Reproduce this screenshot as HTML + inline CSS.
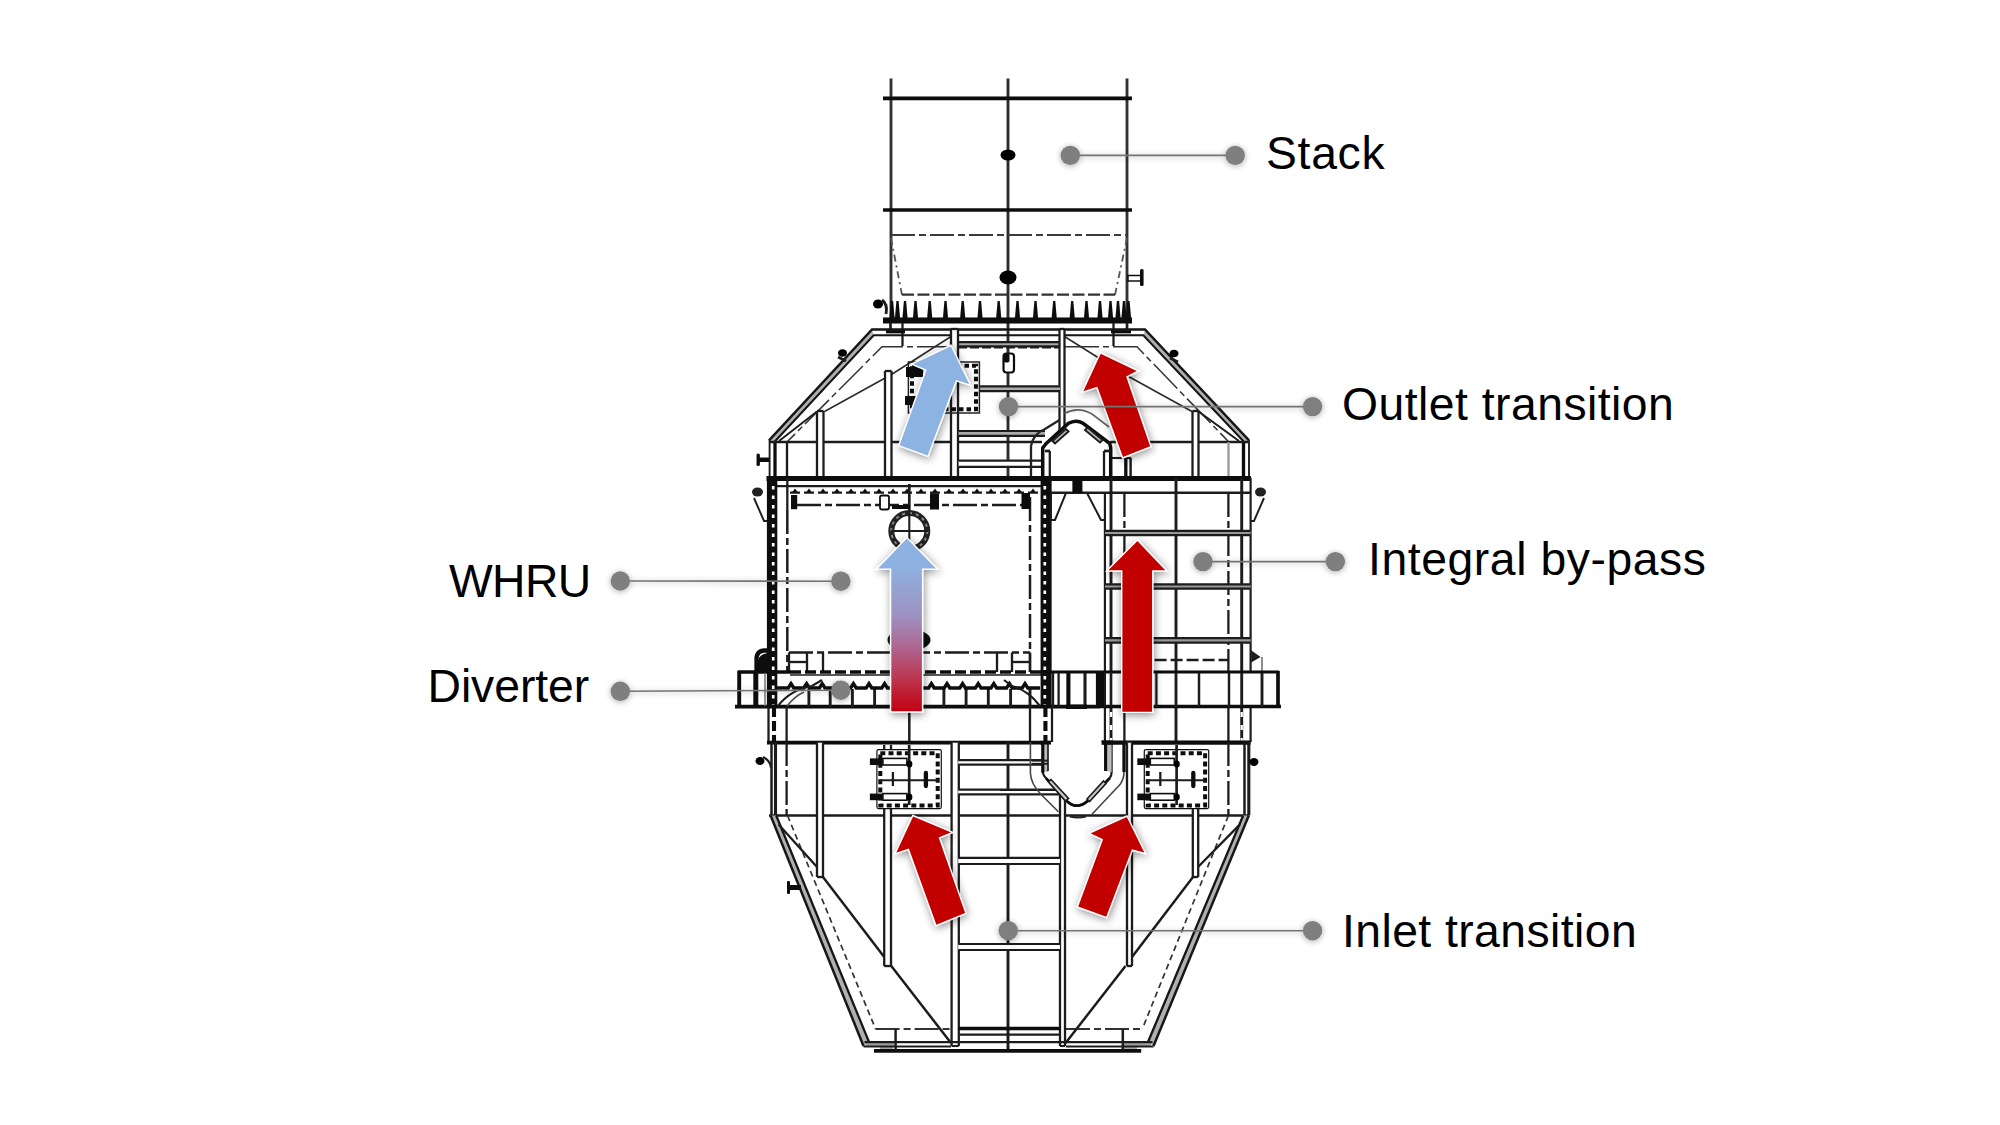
<!DOCTYPE html>
<html lang="en"><head><meta charset="utf-8"><title>WHRU with integral by-pass</title>
<style>
html,body{margin:0;padding:0;background:#fff;}
body{width:2000px;height:1125px;overflow:hidden;position:relative;font-family:"Liberation Sans",Arial,Helvetica,sans-serif;}
svg{position:absolute;left:0;top:0;display:block}
.lbl{position:absolute;font-size:46.3px;line-height:46.3px;color:#000;white-space:nowrap;letter-spacing:0px}
</style></head><body>
<svg width="2000" height="1125" viewBox="0 0 2000 1125">
<defs>
<filter id="soft" x="-2%" y="-2%" width="104%" height="104%"><feGaussianBlur stdDeviation="0.6"/></filter>
<filter id="shadow" x="-30%" y="-30%" width="160%" height="160%">
<feGaussianBlur in="SourceAlpha" stdDeviation="4"/><feOffset dx="1" dy="2.2" result="b"/>
<feComponentTransfer><feFuncA type="linear" slope="0.45"/></feComponentTransfer>
<feMerge><feMergeNode/><feMergeNode in="SourceGraphic"/></feMerge></filter>
<filter id="dshadow" x="-5%" y="-5%" width="110%" height="110%">
<feGaussianBlur in="SourceAlpha" stdDeviation="3"/><feOffset dx="0.3" dy="0.8"/>
<feComponentTransfer><feFuncA type="linear" slope="0.33"/></feComponentTransfer>
<feMerge><feMergeNode/><feMergeNode in="SourceGraphic"/></feMerge></filter>
<linearGradient id="gradBR" x1="0" y1="0" x2="0" y2="1">
<stop offset="0" stop-color="#8DB3E2"/><stop offset="0.16" stop-color="#8DB1E0"/><stop offset="0.45" stop-color="#9E92C2"/><stop offset="0.65" stop-color="#B0608A"/><stop offset="0.85" stop-color="#BE2A40"/><stop offset="1" stop-color="#C00010"/></linearGradient>
</defs>
<g id="drawing" filter="url(#soft)">
<line x1="891" y1="78.5" x2="891" y2="322" stroke="#333" stroke-width="2.9"/>
<line x1="1127" y1="78.5" x2="1127" y2="322" stroke="#333" stroke-width="2.9"/>
<line x1="1008" y1="78.5" x2="1008" y2="478" stroke="#2e2e2e" stroke-width="2.9"/>
<line x1="883" y1="98.3" x2="1132" y2="98.3" stroke="#0c0c0c" stroke-width="3.7"/>
<line x1="883" y1="210" x2="1132" y2="210" stroke="#0c0c0c" stroke-width="3.7"/>
<line x1="891" y1="235" x2="1127" y2="235" stroke="#3a3a3a" stroke-width="2.2" stroke-dasharray="24 4 7 4"/>
<line x1="891" y1="238" x2="902" y2="295" stroke="#555" stroke-width="1.8" stroke-dasharray="7 4 2 4"/>
<line x1="1127" y1="238" x2="1115" y2="295" stroke="#555" stroke-width="1.8" stroke-dasharray="7 4 2 4"/>
<line x1="902" y1="294.7" x2="1115" y2="294.7" stroke="#303030" stroke-width="2.3" stroke-dasharray="12 3.5"/>
<ellipse cx="1008" cy="155" rx="7.5" ry="5.5" fill="#000" stroke="none" stroke-width="0"/>
<ellipse cx="1008" cy="277.5" rx="8.5" ry="7" fill="#000" stroke="none" stroke-width="0"/>
<rect x="1128" y="275.5" width="13" height="5.5" fill="#fff" stroke="#111" stroke-width="1.5" rx="0"/>
<rect x="1140" y="269" width="3.6" height="17" fill="#111" stroke="none" stroke-width="0" rx="1.5"/>
<ellipse cx="878" cy="304" rx="5" ry="4.5" fill="#000" stroke="none" stroke-width="0"/>
<path d="M882 300 Q888 304 886 314" stroke="#1e1e1e" stroke-width="2.9" fill="none"/>
<rect x="883" y="317.5" width="249" height="6" fill="#0a0a0a" stroke="none" stroke-width="0" rx="0"/>
<path d="M889.4 318.5 L890.9 301 L893.1 301 L894.6 318.5 Z" fill="#0a0a0a"/>
<path d="M894.9 318.5 L896.4 301 L898.6 301 L900.1 318.5 Z" fill="#0a0a0a"/>
<path d="M902.4 318.5 L903.9 301 L906.1 301 L907.6 318.5 Z" fill="#0a0a0a"/>
<path d="M912.9 318.5 L914.4 301 L916.6 301 L918.1 318.5 Z" fill="#0a0a0a"/>
<path d="M927.1 318.5 L928.6 301 L930.8000000000001 301 L932.3000000000001 318.5 Z" fill="#0a0a0a"/>
<path d="M942.9 318.5 L944.4 301 L946.6 301 L948.1 318.5 Z" fill="#0a0a0a"/>
<path d="M960.1 318.5 L961.6 301 L963.8000000000001 301 L965.3000000000001 318.5 Z" fill="#0a0a0a"/>
<path d="M977.4 318.5 L978.9 301 L981.1 301 L982.6 318.5 Z" fill="#0a0a0a"/>
<path d="M996.1 318.5 L997.6 301 L999.8000000000001 301 L1001.3000000000001 318.5 Z" fill="#0a0a0a"/>
<path d="M1014.9 318.5 L1016.4 301 L1018.6 301 L1020.1 318.5 Z" fill="#0a0a0a"/>
<path d="M1032.9 318.5 L1034.4 301 L1036.6 301 L1038.1 318.5 Z" fill="#0a0a0a"/>
<path d="M1051.6000000000001 318.5 L1053.1000000000001 301 L1055.3 301 L1056.8 318.5 Z" fill="#0a0a0a"/>
<path d="M1069.6000000000001 318.5 L1071.1000000000001 301 L1073.3 301 L1074.8 318.5 Z" fill="#0a0a0a"/>
<path d="M1083.9 318.5 L1085.4 301 L1087.6 301 L1089.1 318.5 Z" fill="#0a0a0a"/>
<path d="M1097.4 318.5 L1098.9 301 L1101.1 301 L1102.6 318.5 Z" fill="#0a0a0a"/>
<path d="M1107.9 318.5 L1109.4 301 L1111.6 301 L1113.1 318.5 Z" fill="#0a0a0a"/>
<path d="M1115.4 318.5 L1116.9 301 L1119.1 301 L1120.6 318.5 Z" fill="#0a0a0a"/>
<path d="M1121.4 318.5 L1122.9 301 L1125.1 301 L1126.6 318.5 Z" fill="#0a0a0a"/>
<path d="M1125.9 318.5 L1127.4 301 L1129.6 301 L1131.1 318.5 Z" fill="#0a0a0a"/>
<line x1="890.5" y1="323" x2="890.5" y2="330" stroke="#1e1e1e" stroke-width="2.7"/>
<line x1="902.5" y1="323" x2="902.5" y2="346" stroke="#1e1e1e" stroke-width="2.3"/>
<line x1="1113.5" y1="323" x2="1113.5" y2="346" stroke="#1e1e1e" stroke-width="2.3"/>
<line x1="1127" y1="323" x2="1127" y2="330" stroke="#1e1e1e" stroke-width="2.7"/>
<line x1="886" y1="331.5" x2="905" y2="331.5" stroke="#0c0c0c" stroke-width="3.7"/>
<line x1="1111" y1="331.5" x2="1131" y2="331.5" stroke="#0c0c0c" stroke-width="3.7"/>
<path d="M769 440.4 L872 329.5 L873.7 335.2 L775 441.3 Z" fill="#b0b0b0"/>
<path d="M1249 440.4 L1145 329.5 L1143.3 335.2 L1243.5 441.3 Z" fill="#b0b0b0"/>
<path d="M769 440.4 L872 329.5 L1145 329.5 L1249 440.4" stroke="#141414" stroke-width="2.4" fill="none" stroke-linejoin="miter"/>
<path d="M775 441.3 L873.7 335.2 L1143.3 335.2 L1243.5 441.3" stroke="#141414" stroke-width="2.0" fill="none" stroke-linejoin="miter"/>
<line x1="769.6" y1="440" x2="769.6" y2="478" stroke="#1e1e1e" stroke-width="1.9"/>
<line x1="1249" y1="440" x2="1249" y2="478" stroke="#1e1e1e" stroke-width="1.9"/>
<line x1="775" y1="441" x2="775" y2="478" stroke="#0c0c0c" stroke-width="3.3"/>
<line x1="1243.5" y1="441" x2="1243.5" y2="478" stroke="#0c0c0c" stroke-width="3.3"/>
<path d="M951 346.8 L882 346.8 L787.5 441.5" stroke="#333" stroke-width="1.5" fill="none" stroke-linejoin="miter" stroke-dasharray="34 4 6 4"/>
<path d="M1065 346.8 L1137 346.8 L1228.4 441.5" stroke="#333" stroke-width="1.5" fill="none" stroke-linejoin="miter" stroke-dasharray="34 4 6 4"/>
<path d="M951 336.5 L891.5 374.5 L824.5 411.5" stroke="#2a2a2a" stroke-width="1.5" fill="none" stroke-linejoin="miter"/>
<line x1="817" y1="411.5" x2="779" y2="441" stroke="#1e1e1e" stroke-width="1.9"/>
<path d="M1064.5 336.5 L1125 374.5 L1192 411.5" stroke="#2a2a2a" stroke-width="1.5" fill="none" stroke-linejoin="miter"/>
<line x1="1198.5" y1="411.5" x2="1239" y2="441" stroke="#1e1e1e" stroke-width="2.1"/>
<line x1="770" y1="442" x2="1042" y2="442" stroke="#1e1e1e" stroke-width="2.5"/>
<line x1="1110" y1="442" x2="1248" y2="442" stroke="#1e1e1e" stroke-width="2.5"/>
<rect x="958.6" y="342.2" width="101.39999999999998" height="4.100000000000023" fill="#aaa" stroke="none" stroke-width="0" rx="0"/>
<line x1="958.6" y1="342.2" x2="1060" y2="342.2" stroke="#1e1e1e" stroke-width="2.2"/>
<line x1="958.6" y1="346.3" x2="1060" y2="346.3" stroke="#1e1e1e" stroke-width="2.2"/>
<line x1="958" y1="347.6" x2="1060" y2="347.6" stroke="#1e1e1e" stroke-width="1.9" stroke-dasharray="9 3"/>
<rect x="817" y="411" width="6.5" height="67" fill="#fff" stroke="none" stroke-width="0" rx="0"/>
<line x1="817" y1="411" x2="817" y2="478" stroke="#1e1e1e" stroke-width="2.3"/>
<line x1="823.5" y1="411" x2="823.5" y2="478" stroke="#1e1e1e" stroke-width="2.3"/>
<line x1="817" y1="411" x2="823.5" y2="411" stroke="#1e1e1e" stroke-width="2.3"/>
<rect x="885" y="371" width="6.5" height="107" fill="#fff" stroke="none" stroke-width="0" rx="0"/>
<line x1="885" y1="371" x2="885" y2="478" stroke="#1e1e1e" stroke-width="2.3"/>
<line x1="891.5" y1="371" x2="891.5" y2="478" stroke="#1e1e1e" stroke-width="2.3"/>
<line x1="885" y1="371" x2="891.5" y2="371" stroke="#1e1e1e" stroke-width="2.3"/>
<rect x="951" y="329" width="7" height="149" fill="#fff" stroke="none" stroke-width="0" rx="0"/>
<line x1="951" y1="329" x2="951" y2="478" stroke="#1e1e1e" stroke-width="2.3"/>
<line x1="958" y1="329" x2="958" y2="478" stroke="#1e1e1e" stroke-width="2.3"/>
<line x1="951" y1="329" x2="958" y2="329" stroke="#1e1e1e" stroke-width="2.3"/>
<rect x="1059.5" y="329" width="5.0" height="105" fill="#fff" stroke="none" stroke-width="0" rx="0"/>
<line x1="1059.5" y1="329" x2="1059.5" y2="434" stroke="#1e1e1e" stroke-width="2.3"/>
<line x1="1064.5" y1="329" x2="1064.5" y2="434" stroke="#1e1e1e" stroke-width="2.3"/>
<line x1="1059.5" y1="329" x2="1064.5" y2="329" stroke="#1e1e1e" stroke-width="2.3"/>
<rect x="1192.5" y="411" width="6.0" height="67" fill="#fff" stroke="none" stroke-width="0" rx="0"/>
<line x1="1192.5" y1="411" x2="1192.5" y2="478" stroke="#1e1e1e" stroke-width="2.3"/>
<line x1="1198.5" y1="411" x2="1198.5" y2="478" stroke="#1e1e1e" stroke-width="2.3"/>
<line x1="1192.5" y1="411" x2="1198.5" y2="411" stroke="#1e1e1e" stroke-width="2.3"/>
<line x1="1125.8" y1="458" x2="1125.8" y2="478" stroke="#0c0c0c" stroke-width="3.3"/>
<line x1="1130.6" y1="458" x2="1130.6" y2="478" stroke="#1e1e1e" stroke-width="2.5"/>
<line x1="1110" y1="458" x2="1131" y2="458" stroke="#1e1e1e" stroke-width="2.1"/>
<line x1="787" y1="442" x2="787" y2="478" stroke="#1e1e1e" stroke-width="2.3"/>
<line x1="1228.5" y1="442" x2="1228.5" y2="478" stroke="#999" stroke-width="2.3"/>
<rect x="980" y="386.3" width="80" height="4.800000000000011" fill="#aaa" stroke="none" stroke-width="0" rx="0"/>
<line x1="980" y1="386.3" x2="1060" y2="386.3" stroke="#1e1e1e" stroke-width="2.2"/>
<line x1="980" y1="391.1" x2="1060" y2="391.1" stroke="#1e1e1e" stroke-width="2.2"/>
<rect x="958.6" y="431" width="86.39999999999998" height="4.899999999999977" fill="#aaa" stroke="none" stroke-width="0" rx="0"/>
<line x1="958.6" y1="431" x2="1045" y2="431" stroke="#1e1e1e" stroke-width="2.2"/>
<line x1="958.6" y1="435.9" x2="1045" y2="435.9" stroke="#1e1e1e" stroke-width="2.2"/>
<rect x="958.6" y="460.6" width="87.39999999999998" height="6.199999999999989" fill="#fff" stroke="none" stroke-width="0" rx="0"/>
<line x1="958.6" y1="460.6" x2="1046" y2="460.6" stroke="#1e1e1e" stroke-width="2.2"/>
<line x1="958.6" y1="466.8" x2="1046" y2="466.8" stroke="#1e1e1e" stroke-width="2.2"/>
<rect x="1003.5" y="353.5" width="10.5" height="19" fill="#fff" stroke="#111" stroke-width="2.2" rx="3"/>
<rect x="1003.5" y="353.5" width="6" height="9" fill="#111" stroke="none" stroke-width="0" rx="2"/>
<rect x="908.4" y="362" width="71" height="51" fill="none" stroke="#222" stroke-width="1.5" rx="0"/>
<rect x="912" y="365.8" width="64" height="43.5" fill="none" stroke="#111" stroke-width="4" rx="0" stroke-dasharray="4.5 3"/>
<rect x="906" y="367" width="17" height="10" fill="#111" stroke="none" stroke-width="0" rx="0"/>
<rect x="905" y="396" width="11" height="9" fill="#111" stroke="none" stroke-width="0" rx="0"/>
<ellipse cx="842.5" cy="353" rx="4.5" ry="3.8" fill="#000" stroke="none" stroke-width="0"/>
<ellipse cx="1174" cy="353.5" rx="4.5" ry="3.8" fill="#000" stroke="none" stroke-width="0"/>
<path d="M838 357 L846 361" stroke="#1e1e1e" stroke-width="2.7" fill="none"/>
<path d="M1170 358 L1178 362" stroke="#1e1e1e" stroke-width="2.7" fill="none"/>
<rect x="758" y="457.5" width="11" height="4.5" fill="#111" stroke="none" stroke-width="0" rx="0"/>
<rect x="756.5" y="453.5" width="3.4" height="12.5" fill="#111" stroke="none" stroke-width="0" rx="1.5"/>
<path d="M1042.7 478 L1042.7 448 L1046 443.6 L1068 423.6 Q1076 419 1083 423.3 L1109.8 443.6 L1110.7 448 L1110.7 478" stroke="#0c0c0c" stroke-width="3.5" fill="#fff"/>
<path d="M1031 478 L1031 446 Q1033 434 1045 429 L1059.5 420" stroke="#222" stroke-width="2.3" fill="none"/>
<path d="M1064.5 413.5 Q1078 406 1092 414 L1109 427" stroke="#666" stroke-width="1.7" fill="none"/>
<line x1="1049.8" y1="451" x2="1049.8" y2="476" stroke="#1e1e1e" stroke-width="2.3"/>
<line x1="1104" y1="451" x2="1104" y2="476" stroke="#1e1e1e" stroke-width="2.3"/>
<line x1="1045" y1="451" x2="1050" y2="451" stroke="#1e1e1e" stroke-width="2.7"/>
<line x1="1104" y1="451" x2="1110" y2="451" stroke="#1e1e1e" stroke-width="2.7"/>
<path d="M1052.5 441 L1066 429 L1068.5 431.5 L1055 443.5 Z" stroke="#1e1e1e" stroke-width="2.0" fill="#bbb" stroke-linejoin="miter"/>
<path d="M1085 430 L1100 442.5 L1102.5 440 L1087.5 427.5 Z" stroke="#1e1e1e" stroke-width="2.0" fill="#bbb" stroke-linejoin="miter"/>
<rect x="766.5" y="476" width="484.5" height="5" fill="#0a0a0a" stroke="none" stroke-width="0" rx="0"/>
<line x1="768" y1="486.2" x2="1050" y2="486.2" stroke="#1e1e1e" stroke-width="2.2"/>
<line x1="1050" y1="492.8" x2="1250.6" y2="492.8" stroke="#1e1e1e" stroke-width="2.5"/>
<rect x="1072.4" y="480" width="10" height="13" fill="#0a0a0a" stroke="none" stroke-width="0" rx="0"/>
<line x1="790" y1="492.6" x2="1042" y2="492.6" stroke="#1e1e1e" stroke-width="2.2" stroke-dasharray="10 4"/>
<path d="M792.0 492.4 L795.0 488.4 L798.0 492.4 Z" fill="#111"/>
<path d="M806.0 492.4 L809.0 488.4 L812.0 492.4 Z" fill="#111"/>
<path d="M820.0 492.4 L823.0 488.4 L826.0 492.4 Z" fill="#111"/>
<path d="M834.0 492.4 L837.0 488.4 L840.0 492.4 Z" fill="#111"/>
<path d="M848.0 492.4 L851.0 488.4 L854.0 492.4 Z" fill="#111"/>
<path d="M862.0 492.4 L865.0 488.4 L868.0 492.4 Z" fill="#111"/>
<path d="M876.0 492.4 L879.0 488.4 L882.0 492.4 Z" fill="#111"/>
<path d="M890.0 492.4 L893.0 488.4 L896.0 492.4 Z" fill="#111"/>
<path d="M904.0 492.4 L907.0 488.4 L910.0 492.4 Z" fill="#111"/>
<path d="M918.0 492.4 L921.0 488.4 L924.0 492.4 Z" fill="#111"/>
<path d="M932.0 492.4 L935.0 488.4 L938.0 492.4 Z" fill="#111"/>
<path d="M946.0 492.4 L949.0 488.4 L952.0 492.4 Z" fill="#111"/>
<path d="M960.0 492.4 L963.0 488.4 L966.0 492.4 Z" fill="#111"/>
<path d="M974.0 492.4 L977.0 488.4 L980.0 492.4 Z" fill="#111"/>
<path d="M988.0 492.4 L991.0 488.4 L994.0 492.4 Z" fill="#111"/>
<path d="M1002.0 492.4 L1005.0 488.4 L1008.0 492.4 Z" fill="#111"/>
<path d="M1016.0 492.4 L1019.0 488.4 L1022.0 492.4 Z" fill="#111"/>
<path d="M1030.0 492.4 L1033.0 488.4 L1036.0 492.4 Z" fill="#111"/>
<ellipse cx="757.5" cy="492" rx="5.5" ry="4.5" fill="#222" stroke="none" stroke-width="0"/>
<path d="M754 498 L764 521 L768 521" stroke="#1e1e1e" stroke-width="1.9" fill="none" stroke-linejoin="miter"/>
<ellipse cx="1260.5" cy="492" rx="5.5" ry="4.5" fill="#222" stroke="none" stroke-width="0"/>
<path d="M1264 498 L1254 521 L1250 521" stroke="#1e1e1e" stroke-width="1.9" fill="none" stroke-linejoin="miter"/>
<rect x="766.9" y="481" width="10.4" height="191" fill="#0a0a0a" stroke="none" stroke-width="0" rx="0"/>
<line x1="773.2" y1="486" x2="773.2" y2="672" stroke="#fff" stroke-width="2.7" stroke-dasharray="3.4 6.1"/>
<line x1="768.5" y1="707" x2="768.5" y2="742" stroke="#1e1e1e" stroke-width="2.3"/>
<line x1="787.3" y1="478" x2="787.3" y2="510" stroke="#1e1e1e" stroke-width="2.3"/>
<line x1="787.3" y1="510" x2="787.3" y2="672" stroke="#1e1e1e" stroke-width="2.5" stroke-dasharray="24 4 7 4"/>
<rect x="1040.6" y="481" width="11" height="191" fill="#0a0a0a" stroke="none" stroke-width="0" rx="0"/>
<line x1="1044.8" y1="486" x2="1044.8" y2="672" stroke="#fff" stroke-width="2.7" stroke-dasharray="3.4 6.1"/>
<line x1="1030" y1="497" x2="1030" y2="672" stroke="#1e1e1e" stroke-width="2.5" stroke-dasharray="24 4 7 4"/>
<line x1="797" y1="505" x2="1030" y2="505" stroke="#1e1e1e" stroke-width="2.5" stroke-dasharray="24 4 7 4"/>
<rect x="791" y="495" width="6.2" height="14.2" fill="#0a0a0a" stroke="none" stroke-width="0" rx="0"/>
<rect x="930" y="493.5" width="9" height="16" fill="#0a0a0a" stroke="none" stroke-width="0" rx="0"/>
<rect x="1021.5" y="493" width="8.5" height="16" fill="#0a0a0a" stroke="none" stroke-width="0" rx="0"/>
<rect x="880" y="495.5" width="9" height="14" fill="#fff" stroke="#111" stroke-width="1.8" rx="2"/>
<line x1="909.3" y1="484" x2="909.3" y2="512" stroke="#1e1e1e" stroke-width="2.7"/>
<rect x="892" y="505" width="18" height="4" fill="#111" stroke="none" stroke-width="0" rx="0"/>
<circle cx="909.3" cy="531" r="18" fill="#fff" stroke="#222" stroke-width="6"/>
<circle cx="909.3" cy="531" r="18" fill="none" stroke="#888" stroke-width="2" stroke-dasharray="3 4"/>
<line x1="891" y1="531" x2="928" y2="531" stroke="#1e1e1e" stroke-width="2.1"/>
<line x1="909.3" y1="512" x2="909.3" y2="550" stroke="#1e1e1e" stroke-width="2.1"/>
<ellipse cx="909" cy="640" rx="20" ry="9.5" fill="#111" stroke="#111" stroke-width="3"/>
<line x1="789" y1="652.5" x2="1030" y2="652.5" stroke="#1e1e1e" stroke-width="2.5" stroke-dasharray="24 4 7 4"/>
<line x1="789" y1="652.5" x2="789" y2="672" stroke="#1e1e1e" stroke-width="2.3"/>
<line x1="807" y1="652.5" x2="807" y2="672" stroke="#1e1e1e" stroke-width="2.3"/>
<line x1="823" y1="652.5" x2="823" y2="672" stroke="#1e1e1e" stroke-width="2.3"/>
<line x1="997" y1="652.5" x2="997" y2="672" stroke="#1e1e1e" stroke-width="2.3"/>
<line x1="1012" y1="652.5" x2="1012" y2="672" stroke="#1e1e1e" stroke-width="2.3"/>
<line x1="1030" y1="652.5" x2="1030" y2="672" stroke="#1e1e1e" stroke-width="2.3"/>
<line x1="789" y1="662" x2="807" y2="662" stroke="#1e1e1e" stroke-width="2.3"/>
<line x1="1012" y1="662" x2="1030" y2="662" stroke="#1e1e1e" stroke-width="2.3"/>
<path d="M1051 493 L1066 493 L1055 520 L1051 520 Z" stroke="#1e1e1e" stroke-width="2.0" fill="none" stroke-linejoin="miter"/>
<path d="M1087 493 L1105 493 L1105 520 L1101 520 Z" stroke="#1e1e1e" stroke-width="2.0" fill="none" stroke-linejoin="miter"/>
<line x1="1104.9" y1="493" x2="1104.9" y2="742" stroke="#1e1e1e" stroke-width="2.2"/>
<line x1="1111" y1="478" x2="1111" y2="742" stroke="#1e1e1e" stroke-width="2.9"/>
<line x1="1124.4" y1="493" x2="1124.4" y2="672" stroke="#1e1e1e" stroke-width="2.3" stroke-dasharray="24 4 7 4"/>
<line x1="1124.4" y1="707" x2="1124.4" y2="742" stroke="#1e1e1e" stroke-width="2.3"/>
<line x1="1176" y1="478" x2="1176" y2="742" stroke="#1e1e1e" stroke-width="2.9"/>
<line x1="1228.4" y1="493" x2="1228.4" y2="672" stroke="#1e1e1e" stroke-width="2.3" stroke-dasharray="24 4 7 4"/>
<line x1="1228.4" y1="707" x2="1228.4" y2="742" stroke="#1e1e1e" stroke-width="2.3"/>
<line x1="1241.7" y1="478" x2="1241.7" y2="742" stroke="#1e1e1e" stroke-width="2.9"/>
<line x1="1250.6" y1="478" x2="1250.6" y2="742" stroke="#1e1e1e" stroke-width="2.2"/>
<rect x="1105" y="530.8" width="145.5999999999999" height="4.400000000000091" fill="#999" stroke="none" stroke-width="0" rx="0"/>
<line x1="1105" y1="530.8" x2="1250.6" y2="530.8" stroke="#1e1e1e" stroke-width="2.2"/>
<line x1="1105" y1="535.2" x2="1250.6" y2="535.2" stroke="#1e1e1e" stroke-width="2.2"/>
<rect x="1105" y="584.3" width="145.5999999999999" height="4.400000000000091" fill="#999" stroke="none" stroke-width="0" rx="0"/>
<line x1="1105" y1="584.3" x2="1250.6" y2="584.3" stroke="#1e1e1e" stroke-width="2.2"/>
<line x1="1105" y1="588.7" x2="1250.6" y2="588.7" stroke="#1e1e1e" stroke-width="2.2"/>
<rect x="1105" y="638.1999999999999" width="145.5999999999999" height="4.400000000000091" fill="#999" stroke="none" stroke-width="0" rx="0"/>
<line x1="1105" y1="638.1999999999999" x2="1250.6" y2="638.1999999999999" stroke="#1e1e1e" stroke-width="2.2"/>
<line x1="1105" y1="642.6" x2="1250.6" y2="642.6" stroke="#1e1e1e" stroke-width="2.2"/>
<line x1="1154.6" y1="660" x2="1228.4" y2="660" stroke="#1e1e1e" stroke-width="2.3" stroke-dasharray="12 4"/>
<path d="M1252 652 L1259 657 L1252 661 Z" stroke="#1e1e1e" stroke-width="1.7" fill="#222" stroke-linejoin="miter"/>
<line x1="1262" y1="657" x2="1262" y2="672" stroke="#888" stroke-width="1.9"/>
<rect x="737.8" y="672.4" width="541.2" height="34.6" fill="#fff" stroke="none" stroke-width="0" rx="0"/>
<line x1="737.8" y1="672" x2="790" y2="672" stroke="#0c0c0c" stroke-width="3.5"/>
<line x1="790" y1="672" x2="1050" y2="672" stroke="#0c0c0c" stroke-width="3.5" stroke-dasharray="11 4"/>
<line x1="1050" y1="672" x2="1279" y2="672" stroke="#0c0c0c" stroke-width="3.2"/>
<line x1="735" y1="706.6" x2="1100" y2="706.6" stroke="#0c0c0c" stroke-width="3.9"/>
<line x1="1100" y1="706.6" x2="1281" y2="706.6" stroke="#0c0c0c" stroke-width="3.5"/>
<line x1="790" y1="675" x2="1050" y2="675" stroke="#1e1e1e" stroke-width="1.6"/>
<line x1="739.2" y1="671" x2="739.2" y2="708" stroke="#0c0c0c" stroke-width="3.9"/>
<line x1="1278" y1="671" x2="1278" y2="708" stroke="#0c0c0c" stroke-width="3.7"/>
<line x1="755.8" y1="673" x2="755.8" y2="706" stroke="#0c0c0c" stroke-width="5.0"/>
<line x1="765" y1="673" x2="765" y2="706" stroke="#777" stroke-width="1.5"/>
<line x1="1262" y1="673" x2="1262" y2="707" stroke="#1e1e1e" stroke-width="2.9"/>
<line x1="808.9" y1="689" x2="808.9" y2="707" stroke="#1e1e1e" stroke-width="2.9"/>
<line x1="830.2" y1="689" x2="830.2" y2="707" stroke="#1e1e1e" stroke-width="2.9"/>
<line x1="852.4" y1="689" x2="852.4" y2="707" stroke="#1e1e1e" stroke-width="2.9"/>
<line x1="874.6" y1="689" x2="874.6" y2="707" stroke="#1e1e1e" stroke-width="2.9"/>
<line x1="896.8" y1="689" x2="896.8" y2="707" stroke="#1e1e1e" stroke-width="2.9"/>
<line x1="919" y1="689" x2="919" y2="707" stroke="#1e1e1e" stroke-width="2.9"/>
<line x1="943.9" y1="689" x2="943.9" y2="707" stroke="#1e1e1e" stroke-width="2.9"/>
<line x1="966.1" y1="689" x2="966.1" y2="707" stroke="#1e1e1e" stroke-width="2.9"/>
<line x1="988.3" y1="689" x2="988.3" y2="707" stroke="#1e1e1e" stroke-width="2.9"/>
<line x1="1010.6" y1="689" x2="1010.6" y2="707" stroke="#1e1e1e" stroke-width="2.9"/>
<line x1="1030" y1="689" x2="1030" y2="707" stroke="#1e1e1e" stroke-width="2.9"/>
<path d="M771 688 L788.2 688 L791.0 683.6 L793.8 688 L803.8 688 L806.6 683.6 L809.4 688 L819.4 688 L822.2 683.6 L825.0 688 L835.0 688 L837.8 683.6 L840.6 688 L850.6 688 L853.4 683.6 L856.2 688 L866.2 688 L869.0 683.6 L871.8 688 L881.8 688 L884.6 683.6 L887.4 688 L897.4 688 L900.2 683.6 L903.0 688 L913.0 688 L915.8 683.6 L918.6 688 L928.6 688 L931.4 683.6 L934.2 688 L944.2 688 L947.0 683.6 L949.8 688 L959.8 688 L962.6 683.6 L965.4 688 L975.4 688 L978.2 683.6 L981.0 688 L991.0 688 L993.8 683.6 L996.6 688 L1006.6 688 L1009.4 683.6 L1012.2 688 L1022.2 688 L1025.0 683.6 L1027.8 688 L1040 688" stroke="#0c0c0c" stroke-width="3.4" fill="none"/>
<path d="M778 706 Q790 690 812 686 L822 680" stroke="#1e1e1e" stroke-width="2.1" fill="none"/>
<path d="M1040 706 Q1028 690 1012 686 L1004 680" stroke="#1e1e1e" stroke-width="2.1" fill="none"/>
<path d="M787 706 Q795 696 804 692" stroke="#555" stroke-width="1.9" fill="none"/>
<line x1="1053" y1="673" x2="1053" y2="707" stroke="#1e1e1e" stroke-width="2.3"/>
<line x1="1058.6" y1="673" x2="1058.6" y2="707" stroke="#1e1e1e" stroke-width="2.3"/>
<line x1="1068.4" y1="673" x2="1068.4" y2="707" stroke="#0c0c0c" stroke-width="4.1"/>
<line x1="1085" y1="673" x2="1085" y2="707" stroke="#1e1e1e" stroke-width="3.1"/>
<line x1="1100.5" y1="673" x2="1100.5" y2="707" stroke="#0c0c0c" stroke-width="9.2"/>
<line x1="1156.4" y1="673" x2="1156.4" y2="707" stroke="#1e1e1e" stroke-width="2.3"/>
<line x1="1176" y1="673" x2="1176" y2="707" stroke="#1e1e1e" stroke-width="2.9"/>
<line x1="1199" y1="673" x2="1199" y2="707" stroke="#1e1e1e" stroke-width="2.5"/>
<line x1="1229" y1="673" x2="1229" y2="707" stroke="#1e1e1e" stroke-width="2.5"/>
<line x1="1241.7" y1="673" x2="1241.7" y2="707" stroke="#1e1e1e" stroke-width="2.9"/>
<rect x="1066" y="704.5" width="21" height="4.5" fill="#111" stroke="none" stroke-width="0" rx="0"/>
<line x1="1111" y1="672" x2="1111" y2="707" stroke="#1e1e1e" stroke-width="2.7"/>
<line x1="1104.9" y1="672" x2="1104.9" y2="707" stroke="#1e1e1e" stroke-width="2.2"/>
<rect x="766.9" y="672" width="10.4" height="35" fill="#0a0a0a" stroke="none" stroke-width="0" rx="0"/>
<line x1="773.2" y1="676" x2="773.2" y2="705" stroke="#fff" stroke-width="2.7" stroke-dasharray="3.4 6.1"/>
<rect x="1040.6" y="672" width="11" height="35" fill="#0a0a0a" stroke="none" stroke-width="0" rx="0"/>
<line x1="1044.8" y1="676" x2="1044.8" y2="705" stroke="#fff" stroke-width="2.7" stroke-dasharray="3.4 6.1"/>
<path d="M756.5 672 L756.5 658 Q757 651 764 650.5 L768 650.5" stroke="#0c0c0c" stroke-width="4.3" fill="none"/>
<path d="M758 672 L758 660 Q760 654 768 653 L768 672 Z" fill="#111"/>
<line x1="774" y1="707" x2="774" y2="742" stroke="#0c0c0c" stroke-width="4.1" stroke-dasharray="10 4"/>
<line x1="786.6" y1="707" x2="786.6" y2="742" stroke="#1e1e1e" stroke-width="2.3"/>
<line x1="1045.4" y1="707" x2="1045.4" y2="742" stroke="#0c0c0c" stroke-width="4.1" stroke-dasharray="10 4"/>
<line x1="1030" y1="707" x2="1030" y2="742" stroke="#1e1e1e" stroke-width="2.3"/>
<line x1="1052" y1="707" x2="1052" y2="742" stroke="#1e1e1e" stroke-width="2.2"/>
<line x1="909.3" y1="712" x2="909.3" y2="742" stroke="#1e1e1e" stroke-width="2.5"/>
<line x1="1111" y1="712" x2="1111" y2="742" stroke="#fff" stroke-width="2.3" stroke-dasharray="5 8"/>
<line x1="1241.7" y1="712" x2="1241.7" y2="742" stroke="#fff" stroke-width="2.3" stroke-dasharray="5 8"/>
<line x1="767" y1="742.7" x2="1051" y2="742.7" stroke="#0c0c0c" stroke-width="3.7"/>
<line x1="1101.6" y1="742.7" x2="1250.6" y2="742.7" stroke="#0c0c0c" stroke-width="4.3"/>
<line x1="771.5" y1="742" x2="771.5" y2="815.5" stroke="#1e1e1e" stroke-width="2.5"/>
<line x1="775.5" y1="742" x2="775.5" y2="815.5" stroke="#1e1e1e" stroke-width="3.1"/>
<line x1="786.6" y1="742" x2="786.6" y2="815.5" stroke="#1e1e1e" stroke-width="2.3" stroke-dasharray="24 4 7 4"/>
<line x1="1248.8" y1="742" x2="1248.8" y2="815.5" stroke="#1e1e1e" stroke-width="3.1"/>
<line x1="1244.5" y1="742" x2="1244.5" y2="815.5" stroke="#1e1e1e" stroke-width="2.5"/>
<line x1="1228.4" y1="742" x2="1228.4" y2="815.5" stroke="#1e1e1e" stroke-width="2.3" stroke-dasharray="24 4 7 4"/>
<line x1="1008" y1="742" x2="1008" y2="1051" stroke="#1e1e1e" stroke-width="2.9"/>
<line x1="769" y1="815.5" x2="1249" y2="815.5" stroke="#1e1e1e" stroke-width="2.7"/>
<path d="M770.6 815.5 L863.5 1046 L868.6 1044 L776.2 815.5 Z" fill="#b0b0b0"/>
<path d="M1248.8 815.5 L1153.5 1046 L1148 1042 L1243.2 815.5 Z" fill="#b0b0b0"/>
<path d="M770.6 815.5 L863.5 1046" stroke="#181818" stroke-width="2.5" fill="none" stroke-linejoin="miter"/>
<path d="M776.2 815.5 L869 1042" stroke="#141414" stroke-width="2.3" fill="none" stroke-linejoin="miter"/>
<path d="M1248.8 815.5 L1153.5 1046" stroke="#181818" stroke-width="2.5" fill="none" stroke-linejoin="miter"/>
<path d="M1243.2 815.5 L1148 1042" stroke="#141414" stroke-width="2.3" fill="none" stroke-linejoin="miter"/>
<line x1="787.5" y1="815.5" x2="875.6" y2="1029" stroke="#333" stroke-width="1.7" stroke-dasharray="6 4"/>
<line x1="1228.4" y1="815.5" x2="1142.3" y2="1029" stroke="#333" stroke-width="1.7" stroke-dasharray="6 4"/>
<line x1="875.6" y1="1029" x2="951" y2="1029" stroke="#333" stroke-width="1.9" stroke-dasharray="24 4 7 4"/>
<line x1="1066" y1="1029" x2="1142.3" y2="1029" stroke="#333" stroke-width="1.9" stroke-dasharray="24 4 7 4"/>
<line x1="778.6" y1="824.4" x2="817" y2="867" stroke="#1e1e1e" stroke-width="2.3"/>
<line x1="1240" y1="824.4" x2="1198" y2="867" stroke="#1e1e1e" stroke-width="2.3"/>
<line x1="823" y1="877" x2="884.2" y2="957" stroke="#1e1e1e" stroke-width="2.5"/>
<line x1="1193" y1="877" x2="1132" y2="957" stroke="#1e1e1e" stroke-width="2.5"/>
<line x1="891.3" y1="966" x2="951" y2="1043" stroke="#1e1e1e" stroke-width="2.5"/>
<line x1="1125.5" y1="966" x2="1065.6" y2="1043" stroke="#1e1e1e" stroke-width="2.5"/>
<rect x="817" y="742.7" width="6" height="134.29999999999995" fill="#fff" stroke="none" stroke-width="0" rx="0"/>
<line x1="817" y1="742.7" x2="817" y2="877" stroke="#1e1e1e" stroke-width="2.3"/>
<line x1="823" y1="742.7" x2="823" y2="877" stroke="#1e1e1e" stroke-width="2.3"/>
<line x1="817" y1="877" x2="823" y2="877" stroke="#1e1e1e" stroke-width="2.3"/>
<rect x="1192.8" y="808" width="5.400000000000091" height="69" fill="#fff" stroke="none" stroke-width="0" rx="0"/>
<line x1="1192.8" y1="808" x2="1192.8" y2="877" stroke="#1e1e1e" stroke-width="2.3"/>
<line x1="1198.2" y1="808" x2="1198.2" y2="877" stroke="#1e1e1e" stroke-width="2.3"/>
<line x1="1192.8" y1="877" x2="1198.2" y2="877" stroke="#1e1e1e" stroke-width="2.3"/>
<rect x="884.2" y="808" width="6.7999999999999545" height="158" fill="#fff" stroke="none" stroke-width="0" rx="0"/>
<line x1="884.2" y1="808" x2="884.2" y2="966" stroke="#1e1e1e" stroke-width="2.3"/>
<line x1="891" y1="808" x2="891" y2="966" stroke="#1e1e1e" stroke-width="2.3"/>
<line x1="884.2" y1="966" x2="891" y2="966" stroke="#1e1e1e" stroke-width="2.3"/>
<rect x="1127" y="742.7" width="5" height="223.29999999999995" fill="#fff" stroke="none" stroke-width="0" rx="0"/>
<line x1="1127" y1="742.7" x2="1127" y2="966" stroke="#1e1e1e" stroke-width="2.3"/>
<line x1="1132" y1="742.7" x2="1132" y2="966" stroke="#1e1e1e" stroke-width="2.3"/>
<line x1="1127" y1="966" x2="1132" y2="966" stroke="#1e1e1e" stroke-width="2.3"/>
<rect x="951.6" y="742.7" width="7.199999999999932" height="303.29999999999995" fill="#fff" stroke="none" stroke-width="0" rx="0"/>
<line x1="951.6" y1="742.7" x2="951.6" y2="1046" stroke="#1e1e1e" stroke-width="2.3"/>
<line x1="958.8" y1="742.7" x2="958.8" y2="1046" stroke="#1e1e1e" stroke-width="2.3"/>
<line x1="951.6" y1="1046" x2="958.8" y2="1046" stroke="#1e1e1e" stroke-width="2.1"/>
<rect x="1060" y="790" width="5" height="256" fill="#fff" stroke="none" stroke-width="0" rx="0"/>
<line x1="1060" y1="790" x2="1060" y2="1046" stroke="#1e1e1e" stroke-width="2.3"/>
<line x1="1065" y1="790" x2="1065" y2="1046" stroke="#1e1e1e" stroke-width="2.3"/>
<line x1="1060" y1="1046" x2="1065" y2="1046" stroke="#1e1e1e" stroke-width="2.1"/>
<line x1="884.2" y1="745" x2="884.2" y2="750" stroke="#1e1e1e" stroke-width="2.3"/>
<line x1="891" y1="745" x2="891" y2="750" stroke="#1e1e1e" stroke-width="2.3"/>
<rect x="958.2" y="760.2" width="101.79999999999995" height="4.399999999999977" fill="#fff" stroke="none" stroke-width="0" rx="0"/>
<line x1="958.2" y1="760.2" x2="1060" y2="760.2" stroke="#1e1e1e" stroke-width="2.2"/>
<line x1="958.2" y1="764.6" x2="1060" y2="764.6" stroke="#1e1e1e" stroke-width="2.2"/>
<rect x="958.2" y="789.6" width="101.79999999999995" height="4.7999999999999545" fill="#fff" stroke="none" stroke-width="0" rx="0"/>
<line x1="958.2" y1="789.6" x2="1060" y2="789.6" stroke="#1e1e1e" stroke-width="2.2"/>
<line x1="958.2" y1="794.4" x2="1060" y2="794.4" stroke="#1e1e1e" stroke-width="2.2"/>
<rect x="958.2" y="857.8" width="101.79999999999995" height="6.2000000000000455" fill="#fff" stroke="none" stroke-width="0" rx="0"/>
<line x1="958.2" y1="857.8" x2="1060" y2="857.8" stroke="#1e1e1e" stroke-width="2.2"/>
<line x1="958.2" y1="864" x2="1060" y2="864" stroke="#1e1e1e" stroke-width="2.2"/>
<rect x="958.2" y="944" width="101.79999999999995" height="6" fill="#fff" stroke="none" stroke-width="0" rx="0"/>
<line x1="958.2" y1="944" x2="1060" y2="944" stroke="#1e1e1e" stroke-width="2.2"/>
<line x1="958.2" y1="950" x2="1060" y2="950" stroke="#1e1e1e" stroke-width="2.2"/>
<line x1="958.2" y1="1028.6" x2="1060" y2="1028.6" stroke="#0c0c0c" stroke-width="3.5"/>
<line x1="958.2" y1="1034.6" x2="1060" y2="1034.6" stroke="#1e1e1e" stroke-width="2.1"/>
<line x1="1000" y1="790" x2="1062" y2="790" stroke="#1e1e1e" stroke-width="2.2"/>
<rect x="866" y="1042.2" width="28" height="4.2" fill="#a0a0a0" stroke="none" stroke-width="0" rx="0"/>
<rect x="1123" y="1042.2" width="28" height="4.2" fill="#a0a0a0" stroke="none" stroke-width="0" rx="0"/>
<rect x="880" y="1047" width="13" height="2.5" fill="#aaa" stroke="none" stroke-width="0" rx="0"/>
<rect x="1124" y="1047" width="13" height="2.5" fill="#aaa" stroke="none" stroke-width="0" rx="0"/>
<line x1="864.5" y1="1042.2" x2="1152.5" y2="1042.2" stroke="#1e1e1e" stroke-width="2.3"/>
<line x1="863.5" y1="1046.4" x2="951" y2="1046.4" stroke="#1e1e1e" stroke-width="2.0"/>
<line x1="1066" y1="1046.4" x2="1153.5" y2="1046.4" stroke="#1e1e1e" stroke-width="2.0"/>
<line x1="874" y1="1050.9" x2="1141.2" y2="1050.9" stroke="#0c0c0c" stroke-width="3.7"/>
<line x1="895.6" y1="1029" x2="895.6" y2="1050" stroke="#1e1e1e" stroke-width="2.5"/>
<line x1="1122.8" y1="1029" x2="1122.8" y2="1050" stroke="#1e1e1e" stroke-width="2.5"/>
<rect x="789" y="885" width="12" height="5" fill="#111" stroke="none" stroke-width="0" rx="0"/>
<rect x="787" y="881" width="3" height="13" fill="#111" stroke="none" stroke-width="0" rx="1"/>
<ellipse cx="760" cy="761" rx="4.5" ry="4" fill="#000" stroke="none" stroke-width="0"/>
<path d="M763 757 Q770 760 771 768" stroke="#1e1e1e" stroke-width="2.1" fill="none"/>
<ellipse cx="1254" cy="762" rx="4.5" ry="4" fill="#000" stroke="none" stroke-width="0"/>
<path d="M1042.8 742 L1042.8 772.6 Q1043.5 776 1046.4 778.6 L1067.2 801.4 Q1076.8 810 1087.2 801.4 L1109.6 778.2 Q1111.6 776 1111.6 772.6 L1111.6 742" stroke="#1e1e1e" stroke-width="2.2" fill="#fff"/>
<path d="M1042.8 742 L1042.8 772 L1048 772 L1048 742 Z" fill="#bbb"/>
<path d="M1105.6 742 L1105.6 771 L1111.6 772 L1111.6 742 Z" fill="#bbb"/>
<line x1="1042.8" y1="742" x2="1042.8" y2="772.6" stroke="#0c0c0c" stroke-width="3.1"/>
<line x1="1048" y1="742" x2="1048" y2="771" stroke="#1e1e1e" stroke-width="1.7"/>
<line x1="1105.6" y1="742" x2="1105.6" y2="771" stroke="#0c0c0c" stroke-width="3.1"/>
<path d="M1046.4 778.6 L1067.2 801.4 Q1076.8 810 1087.2 801.4 L1109.6 778.2" stroke="#0c0c0c" stroke-width="2.7" fill="none"/>
<path d="M1030.4 742 L1030.4 773 Q1031 784 1040.8 794.2 L1058.4 811.8" stroke="#444" stroke-width="1.6" fill="none"/>
<path d="M1070 816.5 Q1078 818.5 1086 816.5" stroke="#222" stroke-width="1.9" fill="none"/>
<path d="M1092 814.2 L1120 784.6 Q1124 779 1124 772" stroke="#444" stroke-width="1.6" fill="none"/>
<line x1="1124" y1="742" x2="1124" y2="772" stroke="#0c0c0c" stroke-width="3.3"/>
<path d="M1051 779.5 L1068.5 798.5 L1065.5 801 L1048.5 782 Z" stroke="#1e1e1e" stroke-width="1.7" fill="#ccc" stroke-linejoin="miter"/>
<path d="M1087 799 L1103.5 781 L1106 783.5 L1089.5 801.5 Z" stroke="#1e1e1e" stroke-width="1.7" fill="#ccc" stroke-linejoin="miter"/>
<line x1="1032" y1="760.6" x2="1048" y2="760.6" stroke="#1e1e1e" stroke-width="1.9"/>
<line x1="1032" y1="763.8" x2="1048" y2="763.8" stroke="#1e1e1e" stroke-width="1.9"/>
<line x1="1040" y1="742.7" x2="1051" y2="742.7" stroke="#0c0c0c" stroke-width="3.7"/>
<line x1="1101.6" y1="742.7" x2="1113" y2="742.7" stroke="#0c0c0c" stroke-width="4.3"/>
<rect x="876.9" y="749.6" width="64.4" height="59" fill="#fff" stroke="#111" stroke-width="1.2" rx="1.5"/>
<rect x="880.3" y="753.2" width="57.4" height="52.4" fill="none" stroke="#111" stroke-width="4" rx="0" stroke-dasharray="5 3.2"/>
<rect x="869.9" y="758.4" width="13" height="6.6" fill="#0a0a0a" stroke="none" stroke-width="0" rx="0"/>
<rect x="869.9" y="793.6" width="13" height="6.6" fill="#0a0a0a" stroke="none" stroke-width="0" rx="0"/>
<rect x="882.9" y="758.4" width="24" height="6.6" fill="#fff" stroke="#111" stroke-width="1.6" rx="0"/>
<rect x="882.9" y="793.6" width="24" height="6.6" fill="#fff" stroke="#111" stroke-width="1.6" rx="0"/>
<line x1="879.9" y1="780.2" x2="937.4" y2="780.2" stroke="#1e1e1e" stroke-width="2.1"/>
<line x1="909.1999999999999" y1="745" x2="909.1999999999999" y2="805" stroke="#1e1e1e" stroke-width="2.7"/>
<line x1="892.9" y1="772" x2="892.9" y2="786" stroke="#1e1e1e" stroke-width="2.3"/>
<line x1="925.9" y1="773" x2="925.9" y2="786" stroke="#0c0c0c" stroke-width="4.3" stroke-linecap="round"/>
<ellipse cx="909.4" cy="764" rx="3" ry="3.5" fill="#000" stroke="none" stroke-width="0"/>
<ellipse cx="909.4" cy="797" rx="3" ry="3.5" fill="#000" stroke="none" stroke-width="0"/>
<rect x="1144.3" y="749.6" width="64.4" height="59" fill="#fff" stroke="#111" stroke-width="1.2" rx="1.5"/>
<rect x="1147.7" y="753.2" width="57.4" height="52.4" fill="none" stroke="#111" stroke-width="4" rx="0" stroke-dasharray="5 3.2"/>
<rect x="1137.3" y="758.4" width="13" height="6.6" fill="#0a0a0a" stroke="none" stroke-width="0" rx="0"/>
<rect x="1137.3" y="793.6" width="13" height="6.6" fill="#0a0a0a" stroke="none" stroke-width="0" rx="0"/>
<rect x="1150.3" y="758.4" width="24" height="6.6" fill="#fff" stroke="#111" stroke-width="1.6" rx="0"/>
<rect x="1150.3" y="793.6" width="24" height="6.6" fill="#fff" stroke="#111" stroke-width="1.6" rx="0"/>
<line x1="1147.3" y1="780.2" x2="1204.8" y2="780.2" stroke="#1e1e1e" stroke-width="2.1"/>
<line x1="1176.6" y1="745" x2="1176.6" y2="805" stroke="#1e1e1e" stroke-width="2.7"/>
<line x1="1160.3" y1="772" x2="1160.3" y2="786" stroke="#1e1e1e" stroke-width="2.3"/>
<line x1="1193.3" y1="773" x2="1193.3" y2="786" stroke="#0c0c0c" stroke-width="4.3" stroke-linecap="round"/>
<ellipse cx="1176.8" cy="764" rx="3" ry="3.5" fill="#000" stroke="none" stroke-width="0"/>
<ellipse cx="1176.8" cy="797" rx="3" ry="3.5" fill="#000" stroke="none" stroke-width="0"/>
</g>

<g filter="url(#shadow)">
<!-- blue upper-left arrow -->
<polygon points="951,345.3 970.6,385.3 956.4,380.9 928,456.4 898.6,445.7 925.8,370.2 911.6,364.2" fill="#8DB3E2" stroke="#fff" stroke-width="1.4"/>
<!-- red upper-right arrow -->
<polygon points="1100.4,352.8 1138.6,371 1127,376.8 1151,446.6 1122.6,458 1096.9,387.6 1082,392.4" fill="#C30000" stroke="#fff" stroke-width="1.4"/>
<!-- centre gradient arrow -->
<polygon points="906.8,537.6 937.7,569.3 922.6,569.3 922.6,712 890.6,712 890.6,569.3 876.4,569.3" fill="url(#gradBR)" stroke="#fff" stroke-width="1.4"/>
<!-- centre-right red arrow -->
<polygon points="1137.4,540.0 1167,571 1152.8,571 1152.8,712.4 1121.7,712.4 1121.7,571 1106.6,571" fill="#C30000" stroke="#fff" stroke-width="1.4"/>
<!-- lower-left red arrow -->
<polygon points="912.8,815.5 952.8,832.4 939.5,837.8 966,913.3 936,925.7 908.4,849.3 895,853.8" fill="#C30000" stroke="#fff" stroke-width="1.4"/>
<!-- lower-right red arrow -->
<polygon points="1127,816 1145.7,853.8 1132.4,850.2 1106.6,917.7 1077.3,907 1102.2,839.5 1088.9,833.3" fill="#C30000" stroke="#fff" stroke-width="1.4"/>
</g>


<g filter="url(#dshadow)">
<g stroke="#737373" stroke-width="1.6">
<line x1="1070" y1="155.4" x2="1235" y2="155.4"/>
<line x1="1008.5" y1="406.6" x2="1312.6" y2="406.6"/>
<line x1="1203" y1="561.6" x2="1335.4" y2="561.6"/>
<line x1="620.3" y1="581" x2="840.8" y2="581.2"/>
<line x1="620.3" y1="691.3" x2="840.8" y2="690.2"/>
<line x1="1008.3" y1="930.7" x2="1312.6" y2="930.7"/>
</g>
<g fill="#7f7f7f">
<circle cx="1070.3" cy="155.4" r="9.7"/><circle cx="1235.2" cy="155.4" r="9.7"/>
<circle cx="1008.5" cy="406.6" r="9.7"/><circle cx="1312.6" cy="406.6" r="9.7"/>
<circle cx="1203" cy="561.6" r="9.7"/><circle cx="1335.4" cy="561.6" r="9.7"/>
<circle cx="620.3" cy="581" r="9.7"/><circle cx="840.8" cy="581.2" r="9.7"/>
<circle cx="620.3" cy="691.3" r="9.7"/><circle cx="840.8" cy="690.2" r="9.7"/>
<circle cx="1008.3" cy="930.7" r="9.7"/><circle cx="1312.6" cy="930.7" r="9.7"/>
</g>
</g>

</svg>
<div class="lbl" id="t1" style="left:1266.00px;top:130.00px;letter-spacing:0.700px">Stack</div>
<div class="lbl" id="t2" style="left:1342.00px;top:380.50px;letter-spacing:0.475px">Outlet transition</div>
<div class="lbl" id="t3" style="left:1368.00px;top:535.50px;letter-spacing:0.573px">Integral by-pass</div>
<div class="lbl" id="t4" style="left:449.00px;top:558.00px;letter-spacing:-0.600px">WHRU</div>
<div class="lbl" id="t5" style="left:427.50px;top:662.50px;letter-spacing:-0.057px">Diverter</div>
<div class="lbl" id="t6" style="left:1342.00px;top:908.00px;letter-spacing:0.427px">Inlet transition</div>
</body></html>
